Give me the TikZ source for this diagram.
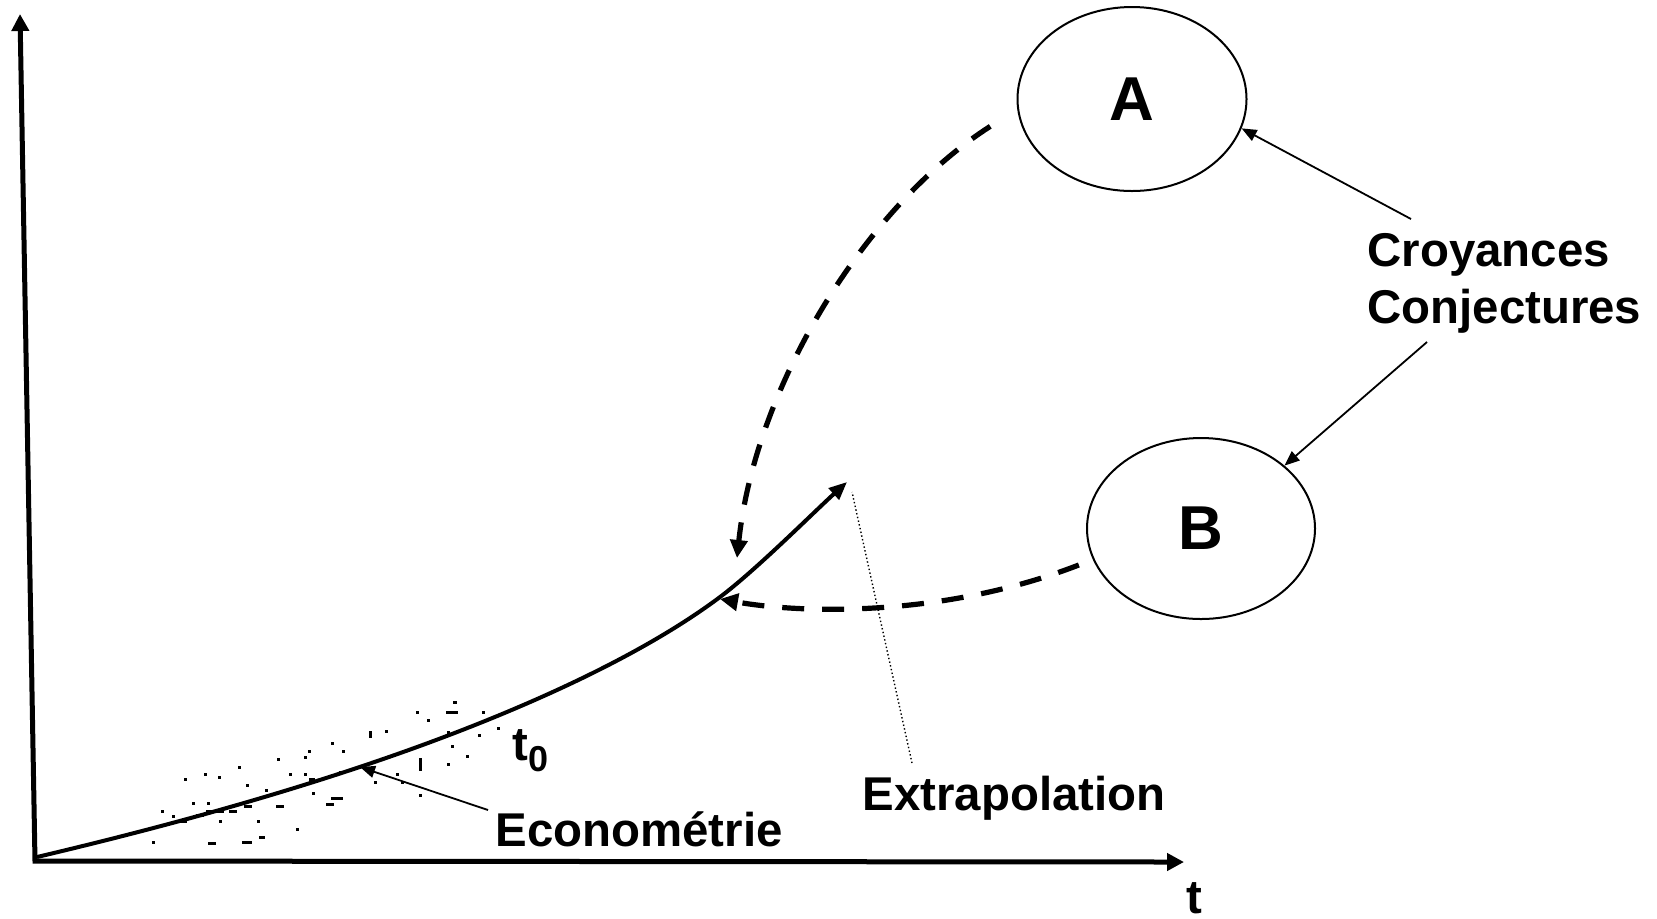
\documentclass[tikz,border=0pt]{standalone}
\usepackage{fontspec}
\setmainfont{Liberation Sans}
\usetikzlibrary{arrows.meta,shapes.geometric,calc}
\begin{document}
\begin{tikzpicture}[x=0.5pt,y=-0.5pt,
  lbl/.style={font=\fontsize{23.7}{28.5}\selectfont\bfseries, inner sep=0pt},
  circ/.style={draw, ellipse, line width=1pt, inner sep=0pt, font=\fontsize{31}{31}\selectfont\bfseries},
  axisline/.style={line width=2.5pt, line join=miter},
  curveline/.style={line width=2pt, -{Triangle[length=9pt,width=7.5pt]}},
  dasharc/.style={line width=2.6pt, dash pattern=on 11pt off 9pt, -{Triangle[length=9pt,width=8.5pt]}},
  thinarr/.style={line width=0.9pt, -{Triangle[length=7.5pt,width=6pt]}},
  dotline/.style={line width=0.7pt, dash pattern=on 0.7pt off 1.2pt}
]
\useasboundingbox (0,0) rectangle (1657,918);

% axes
\coordinate (O) at (35,861);
\coordinate (Ytop) at (20,14);
\coordinate (Xend) at (1184,862);
\draw[axisline, {Triangle[length=8.5pt,width=8.5pt]}-{Triangle[length=8.5pt,width=8.5pt]}] (Ytop) -- (O) -- (Xend);

% scatter of observations
\foreach \x/\y/\w in {455/702/4, 452/712/12, 417/712/3, 428/720/3, 483/712/3,
  386/731/3, 332/743/3, 343/751/3, 309/751/3, 305/757/3, 278/759/3,
  448/732/3, 479/735/3, 498/728/3, 452/746/3, 467/756/3, 448/764/3,
  378/760/3, 397/774/3, 375/782/3, 402/782/3, 420/795/3, 340/772/3,
  290/774/3, 305/774/3, 312/779/6, 239/767/3, 205/774/3, 219/777/3,
  185/779/3, 247/785/3, 266/790/3, 313/793/3, 337/798/12, 330/804/8,
  280/806/8, 248/806/8, 193/803/3, 208/803/3, 162/811/3, 173/816/3,
  200/815/8, 215/811/18, 233/811/8, 183/821/8, 220/821/3, 258/821/3,
  297/829/3, 153/842/3, 212/843/8, 247/842/10, 262/837/6}
  \fill (\x-\w/2,\y-1.5) rectangle (\x+\w/2,\y+1.5);
\fill (369,731) rectangle (372,738);
\fill (418.5,758) rectangle (421.5,771);

% main curve
\coordinate (C0) at (37,857);
\coordinate (C1) at (480,723);
\coordinate (C2) at (720,597);
\coordinate (C3) at (847,482);
\draw[curveline] (C0) .. controls (183,822.5) and (340.8,778.8) .. (C1)
  .. controls (558.9,691.4) and (652,648) .. (C2)
  .. controls (756,570) and (813.7,512.2) .. (C3);

% points on curve
\coordinate (cA) at (737,558);
\coordinate (cB) at (720,599);
\coordinate (e1) at (360,767);

% ellipses
\node[circ, minimum width=114.5pt, minimum height=92pt] (A) at (1132,99) {A};
\node[circ, minimum width=114pt, minimum height=90.5pt] (B) at (1201,528.5) {B};

% dashed arcs
\draw[dasharc, shorten <=16pt] (A.185) .. controls (863,208) and (755,389) .. (cA);
\draw[dasharc, shorten <=7.5pt] (B.196) .. controls (950,615) and (810,615) .. (cB);

% labels
\node[lbl, anchor=base west, align=left] (cc) at (1367,323) {Croyances\\Conjectures};
\node[lbl, anchor=base] (econ) at (639,846) {Econométrie};
\node[lbl, anchor=base] (extra) at (1014,810) {Extrapolation};
\node[lbl, anchor=base] (tlab) at (1194,913) {t};
\node[lbl, anchor=base west] (t0) at (512,760) {t\raisebox{-5.5pt}{\fontsize{18}{18}\selectfont 0}};

% connectors from labels
\coordinate (ccA) at (1411,219);
\coordinate (ccB) at (1427,342);
\draw[thinarr] (ccA) -- (A.-15);
\draw[thinarr] (ccB) -- (B.37);
\coordinate (econS) at (488,810);
\draw[thinarr] (econS) -- (e1);
\coordinate (xS) at (912,763);
\coordinate (xE) at (852,492);
\draw[dotline] (xS) -- (xE);
\end{tikzpicture}
\end{document}
